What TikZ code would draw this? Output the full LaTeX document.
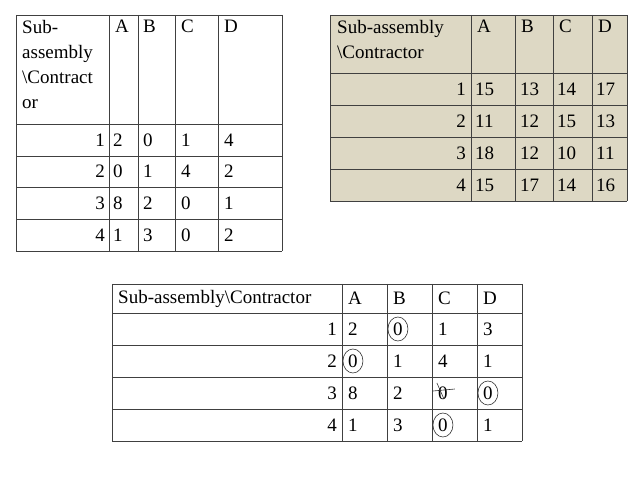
\documentclass[tikz,border=0pt]{standalone}
\usepackage{fontspec}
\setmainfont{Liberation Serif}
\usetikzlibrary{calc}
\begin{document}
\begin{tikzpicture}[x=1pt,y=-1pt,
  grid/.style={draw=black!75,line width=0.9pt},
  hd/.style={anchor=north west,inner sep=0pt,font=\fontsize{19}{25}\selectfont,align=left},
  cl/.style={anchor=west,inner sep=0pt,font=\fontsize{19}{23}\selectfont},
  cr/.style={anchor=east,inner sep=0pt,font=\fontsize{19}{23}\selectfont},
  ring/.style={draw=black!80,line width=0.6pt}]
\useasboundingbox (0,0) rectangle (638,478);
% ---- table 1
\foreach \x in {16,109,138,175,218,282} \draw[grid] (\x,15) -- (\x,251);
\foreach \y in {15,124,156,187,219,251} \draw[grid] (16,\y) -- (282,\y);
\node[hd] (t1h) at (22,20) {Sub-\\assembly\\\textbackslash Contract\\or};
\node[hd] (t1a) at (115,20) {A};
\node[hd] (t1b) at (143,20) {B};
\node[hd] (t1c) at (181,20) {C};
\node[hd] (t1d) at (224,20) {D};
\foreach \r/\y/\a/\b/\c/\d in {1/140/2/0/1/4,2/171.5/0/1/4/2,3/203/8/2/0/1,4/235/1/3/0/2}{
  \node[cr] (t1r\r) at (105,\y) {\r};
  \node[cl] (t1a\r) at (113,\y) {\a};
  \node[cl] (t1b\r) at (143,\y) {\b};
  \node[cl] (t1c\r) at (181,\y) {\c};
  \node[cl] (t1d\r) at (224,\y) {\d};
}
% ---- table 2
\fill[fill={rgb,255:red,221;green,216;blue,196}] (330,15) rectangle (627,201);
\foreach \x in {330,471,515,553,592,627} \draw[grid] (\x,15) -- (\x,201);
\foreach \y in {15,73,105,137,169,201} \draw[grid] (330,\y) -- (627,\y);
\node[hd] (t2h) at (337,20) {Sub-assembly\\\textbackslash Contractor};
\node[hd] (t2a) at (477,20) {A};
\node[hd] (t2b) at (521,20) {B};
\node[hd] (t2c) at (559,20) {C};
\node[hd] (t2d) at (598,20) {D};
\foreach \r/\y/\a/\b/\c/\d in {1/89/15/13/14/17,2/121/11/12/15/13,3/153/18/12/10/11,4/185/15/17/14/16}{
  \node[cr] (t2r\r) at (466,\y) {\r};
  \node[cl] (t2a\r) at (475,\y) {\a};
  \node[cl] (t2b\r) at (520,\y) {\b};
  \node[cl] (t2c\r) at (557,\y) {\c};
  \node[cl] (t2d\r) at (596,\y) {\d};
}
% ---- table 3
\foreach \x in {112,342,387,432,477,522} \draw[grid] (\x,284) -- (\x,441);
\foreach \y in {284,313,345,377,409,441} \draw[grid] (112,\y) -- (522,\y);
\node[cl] (t3h) at (118,298.5) {Sub-assembly\textbackslash Contractor};
\node[cl] (t3a) at (348,298.5) {A};
\node[cl] (t3b) at (393,298.5) {B};
\node[cl] (t3c) at (438,298.5) {C};
\node[cl] (t3d) at (483,298.5) {D};
\foreach \r/\y/\a/\b/\c/\d in {1/329/2/0/1/3,2/361/0/1/4/1,3/393/8/2/0/0,4/425/1/3/0/1}{
  \node[cr] (t3r\r) at (337,\y) {\r};
  \node[cl] (t3a\r) at (348,\y) {\a};
  \node[cl] (t3b\r) at (393,\y) {\b};
  \node[cl] (t3c\r) at (438,\y) {\c};
  \node[cl] (t3d\r) at (483,\y) {\d};
}
\draw[ring] (t3b1.center) ellipse (10 and 12);
\draw[ring] (t3a2.center) ellipse (10 and 12);
\draw[ring] (t3d3.center) ellipse (10 and 12);
\draw[ring] (t3c4.center) ellipse (10 and 12);
\draw[black!80,line width=0.6pt] ($(t3c3.center)+(-6,-10)$) -- ($(t3c3.center)+(1,6)$);
\draw[black!80,line width=0.6pt] ($(t3c3.center)+(-10,-2)$) -- ($(t3c3.center)+(12,-4)$);
\end{tikzpicture}
\end{document}
